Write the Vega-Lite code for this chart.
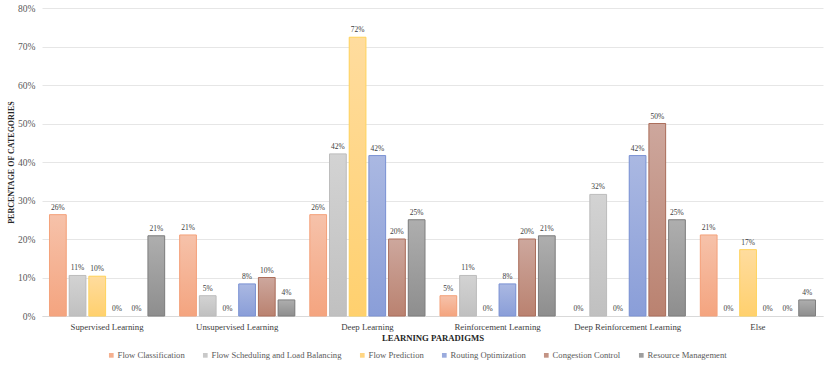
{
  "$schema": "https://vega.github.io/schema/vega-lite/v6.json",
  "autosize": {"type": "none"},
  "width": 781,
  "height": 308,
  "padding": {"left": 42, "top": 8, "right": 7, "bottom": 51},
  "background": "white",
  "config": {
    "font": "Liberation Serif",
    "view": {"stroke": null},
    "axis": {"labelFont": "Liberation Serif", "titleFont": "Liberation Serif"},
    "legend": {"labelFont": "Liberation Serif"},
    "text": {"font": "Liberation Serif"}
  },
  "data": {
    "values": [
      {"paradigm": "Supervised Learning", "series": "Flow Classification", "value": 0.2632},
      {"paradigm": "Supervised Learning", "series": "Flow Scheduling and Load Balancing", "value": 0.1053},
      {"paradigm": "Supervised Learning", "series": "Flow Prediction", "value": 0.1034},
      {"paradigm": "Supervised Learning", "series": "Routing Optimization", "value": 0},
      {"paradigm": "Supervised Learning", "series": "Congestion Control", "value": 0},
      {"paradigm": "Supervised Learning", "series": "Resource Management", "value": 0.2083},
      {"paradigm": "Unsupervised Learning", "series": "Flow Classification", "value": 0.2105},
      {"paradigm": "Unsupervised Learning", "series": "Flow Scheduling and Load Balancing", "value": 0.0526},
      {"paradigm": "Unsupervised Learning", "series": "Flow Prediction", "value": 0},
      {"paradigm": "Unsupervised Learning", "series": "Routing Optimization", "value": 0.0833},
      {"paradigm": "Unsupervised Learning", "series": "Congestion Control", "value": 0.1},
      {"paradigm": "Unsupervised Learning", "series": "Resource Management", "value": 0.0417},
      {"paradigm": "Deep Learning", "series": "Flow Classification", "value": 0.2632},
      {"paradigm": "Deep Learning", "series": "Flow Scheduling and Load Balancing", "value": 0.4211},
      {"paradigm": "Deep Learning", "series": "Flow Prediction", "value": 0.7241},
      {"paradigm": "Deep Learning", "series": "Routing Optimization", "value": 0.4167},
      {"paradigm": "Deep Learning", "series": "Congestion Control", "value": 0.2},
      {"paradigm": "Deep Learning", "series": "Resource Management", "value": 0.25},
      {"paradigm": "Reinforcement Learning", "series": "Flow Classification", "value": 0.0526},
      {"paradigm": "Reinforcement Learning", "series": "Flow Scheduling and Load Balancing", "value": 0.1053},
      {"paradigm": "Reinforcement Learning", "series": "Flow Prediction", "value": 0},
      {"paradigm": "Reinforcement Learning", "series": "Routing Optimization", "value": 0.0833},
      {"paradigm": "Reinforcement Learning", "series": "Congestion Control", "value": 0.2},
      {"paradigm": "Reinforcement Learning", "series": "Resource Management", "value": 0.2083},
      {"paradigm": "Deep Reinforcement Learning", "series": "Flow Classification", "value": 0},
      {"paradigm": "Deep Reinforcement Learning", "series": "Flow Scheduling and Load Balancing", "value": 0.3158},
      {"paradigm": "Deep Reinforcement Learning", "series": "Flow Prediction", "value": 0},
      {"paradigm": "Deep Reinforcement Learning", "series": "Routing Optimization", "value": 0.4167},
      {"paradigm": "Deep Reinforcement Learning", "series": "Congestion Control", "value": 0.5},
      {"paradigm": "Deep Reinforcement Learning", "series": "Resource Management", "value": 0.25},
      {"paradigm": "Else", "series": "Flow Classification", "value": 0.2105},
      {"paradigm": "Else", "series": "Flow Scheduling and Load Balancing", "value": 0},
      {"paradigm": "Else", "series": "Flow Prediction", "value": 0.1724},
      {"paradigm": "Else", "series": "Routing Optimization", "value": 0},
      {"paradigm": "Else", "series": "Congestion Control", "value": 0},
      {"paradigm": "Else", "series": "Resource Management", "value": 0.0417}
    ]
  },
  "encoding": {
    "x": {
      "field": "paradigm", "type": "nominal", "sort": null,
      "scale": {"paddingInner": 0.1, "paddingOuter": 0.05},
      "axis": {
        "title": "LEARNING PARADIGMS", "labelAngle": 0, "ticks": false,
        "domainColor": "#D9D9D9", "labelFontSize": 8.8, "labelColor": "#404040",
        "labelPadding": 6, "titleFontSize": 8.7, "titleFontWeight": "bold",
        "titleColor": "#262626", "titlePadding": 3
      }
    },
    "xOffset": {
      "field": "series", "type": "nominal", "sort": null,
      "scale": {"domain": ["Flow Classification", "Flow Scheduling and Load Balancing", "Flow Prediction", "Routing Optimization", "Congestion Control", "Resource Management"], "paddingInner": 0.15, "paddingOuter": 0.05}
    },
    "y": {
      "field": "value", "type": "quantitative",
      "scale": {"domain": [0, 0.8], "nice": false},
      "axis": {
        "title": "PERCENTAGE OF CATEGORIES", "format": ".0%",
        "values": [0, 0.1, 0.2, 0.3, 0.4, 0.5, 0.6, 0.7, 0.8],
        "domain": false, "ticks": false, "gridColor": "#E6E6E6",
        "labelFontSize": 9.5, "labelColor": "#595959", "labelPadding": 7,
        "titleFontSize": 8, "titleFontWeight": "bold", "titleColor": "#262626",
        "titlePadding": 2
      }
    }
  },
  "layer": [
    {
      "transform": [{"filter": "datum.value > 0"}],
      "mark": {"type": "bar"},
      "encoding": {
        "fill": {
          "field": "series", "type": "nominal", "sort": null,
          "scale": {
            "domain": ["Flow Classification", "Flow Scheduling and Load Balancing", "Flow Prediction", "Routing Optimization", "Congestion Control", "Resource Management"],
            "range": ["#F5B08F", "#C9C9C9", "#FFD683", "#9AABDD", "#C39384", "#9E9E9E"]
          },
          "legend": {
            "title": null, "orient": "none", "legendX": 65, "legendY": 343, "direction": "horizontal", "columns": 6,
            "symbolType": "square", "symbolSize": 22, "labelFontSize": 8.6,
            "labelColor": "#595959", "columnPadding": 16, "symbolStrokeWidth": 0,
            "labelOffset": 2, "labelLimit": 300
          }
        }
      }
    },
    {
      "transform": [{"filter": "datum.value > 0"}],
      "mark": {"type": "bar", "strokeWidth": 1},
      "encoding": {
        "fill": {
          "condition": [
            {"test": "datum.series === 'Flow Classification'", "value": {"gradient": "linear", "x1": 0, "y1": 0, "x2": 0, "y2": 1, "stops": [{"offset": 0, "color": "#F6C2AA"}, {"offset": 1, "color": "#F4A47F"}]}},
            {"test": "datum.series === 'Flow Scheduling and Load Balancing'", "value": {"gradient": "linear", "x1": 0, "y1": 0, "x2": 0, "y2": 1, "stops": [{"offset": 0, "color": "#D3D3D3"}, {"offset": 1, "color": "#C0C0C0"}]}},
            {"test": "datum.series === 'Flow Prediction'", "value": {"gradient": "linear", "x1": 0, "y1": 0, "x2": 0, "y2": 1, "stops": [{"offset": 0, "color": "#FFDC9E"}, {"offset": 1, "color": "#FFD06E"}]}},
            {"test": "datum.series === 'Routing Optimization'", "value": {"gradient": "linear", "x1": 0, "y1": 0, "x2": 0, "y2": 1, "stops": [{"offset": 0, "color": "#AAB8E2"}, {"offset": 1, "color": "#8A9ED8"}]}},
            {"test": "datum.series === 'Congestion Control'", "value": {"gradient": "linear", "x1": 0, "y1": 0, "x2": 0, "y2": 1, "stops": [{"offset": 0, "color": "#CDA79D"}, {"offset": 1, "color": "#BA8270"}]}}
          ],
          "value": {"gradient": "linear", "x1": 0, "y1": 0, "x2": 0, "y2": 1, "stops": [{"offset": 0, "color": "#AEAEAE"}, {"offset": 1, "color": "#8E8E8E"}]}
        },
        "stroke": {
          "field": "series", "type": "nominal", "sort": null,
          "scale": {
            "domain": ["Flow Classification", "Flow Scheduling and Load Balancing", "Flow Prediction", "Routing Optimization", "Congestion Control", "Resource Management"],
            "range": ["#F4A27C", "#BDBDBD", "#FFD45F", "#7C93D4", "#AC6F5C", "#7F7F7F"]
          },
          "legend": null
        }
      }
    },
    {
      "mark": {"type": "text", "baseline": "bottom", "dy": -3, "fontSize": 7.5, "fill": "#404040", "font": "Liberation Serif"},
      "encoding": {
        "text": {"field": "value", "type": "quantitative", "format": ".0%"}
      }
    }
  ]
}
